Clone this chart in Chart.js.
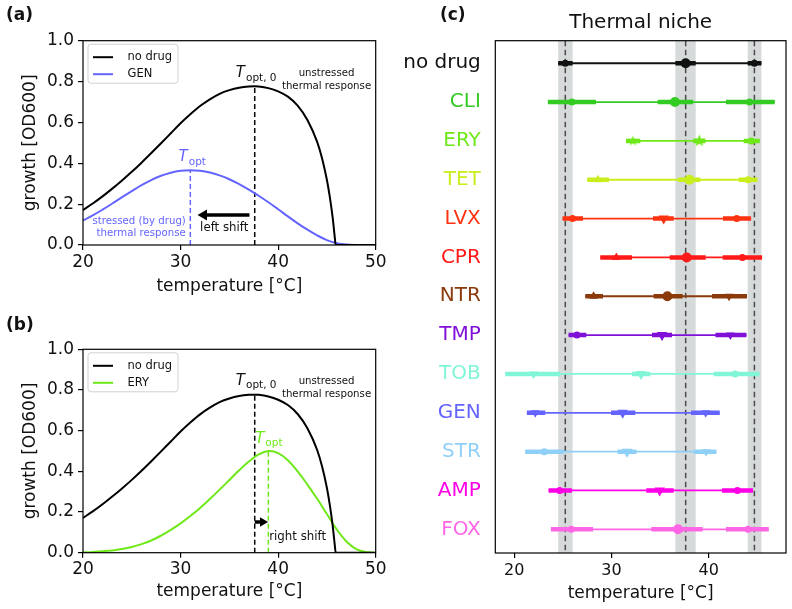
<!DOCTYPE html>
<html>
<head>
<meta charset="utf-8">
<script src="https://cdn.jsdelivr.net/npm/chart.js@4.4.1/dist/chart.umd.min.js"></script>
<style>
  body { margin: 0; background: #fff; width: 792px; height: 609px; position: relative; overflow: hidden; }
  canvas { position: absolute; }
  .panel { position: absolute; font: bold 17px "DejaVu Sans", sans-serif; color: #111; }
</style>
</head>
<body>
<canvas id="panelA" width="390" height="300" style="left:0;top:0"></canvas>
<canvas id="panelB" width="390" height="309" style="left:0;top:300px"></canvas>
<canvas id="panelC" width="402" height="609" style="left:390px;top:0"></canvas>
<div class="panel" style="left:6px;top:4px">(a)</div>
<div class="panel" style="left:6px;top:314px">(b)</div>
<div class="panel" style="left:440px;top:4px">(c)</div>
<script>
// growth curves (a) and (b)
const noDrugT = [20, 21, 22, 23, 24, 25, 26, 27, 28, 29, 30, 31, 32, 33, 34, 35, 36, 37, 37.6, 38, 39, 40, 41, 42, 43, 44, 44.5, 45, 45.3, 45.6, 45.8, 45.9, 47, 50];
const noDrugGrowth = [0.171, 0.203, 0.238, 0.276, 0.316, 0.358, 0.403, 0.45, 0.498, 0.547, 0.596, 0.64, 0.68, 0.713, 0.74, 0.758, 0.77, 0.776, 0.777, 0.776, 0.768, 0.752, 0.726, 0.682, 0.612, 0.505, 0.425, 0.318, 0.234, 0.13, 0.04, 0, 0, 0];
const drugT = [20, 21, 22, 23, 24, 25, 26, 27, 28, 29, 30, 31, 32, 33, 34, 35, 36, 37, 38, 39, 40, 41, 42, 43, 44, 45, 46, 47, 48, 49, 50];
const genGrowth = [0.12, 0.145, 0.173, 0.203, 0.234, 0.264, 0.293, 0.318, 0.339, 0.354, 0.363, 0.366, 0.363, 0.355, 0.341, 0.322, 0.298, 0.271, 0.241, 0.209, 0.175, 0.14, 0.106, 0.075, 0.047, 0.024, 0.009, 0.002, 0, 0, 0];
const eryGrowth = [0.002, 0.004, 0.007, 0.011, 0.018, 0.028, 0.042, 0.06, 0.084, 0.112, 0.144, 0.18, 0.22, 0.264, 0.31, 0.357, 0.405, 0.448, 0.483, 0.50, 0.49, 0.455, 0.40, 0.335, 0.265, 0.19, 0.115, 0.055, 0.018, 0.003, 0];

// shift arrows: [tail, head tip, growth level]
const leftShift = [37.06, 31.74, 0.147];
const rightShift = [37.6, 38.97, 0.151];

// thermal niche, panel (c)
const drugs = ['no drug', 'CLI', 'ERY', 'TET', 'LVX', 'CPR', 'NTR', 'TMP', 'TOB', 'GEN', 'STR', 'AMP', 'FOX'];
const drugColors = ['#111111', '#33cc22', '#6fe81a', '#c8ee1e', '#ff3311', '#ff1a1a', '#8b3a0c', '#8010d8', '#80f5d8', '#6464ff', '#8fd0f8', '#ff00e6', '#ff66e6'];
const tMin   = [25.25, 25.93, 32.21, 28.61, 26.00, 30.50, 28.16, 26.45, 21.99, 22.16, 23.09, 24.67, 25.87];
const tMinLo = [24.52, 23.46, 31.49, 27.51, 24.97, 28.85, 27.31, 25.59, 19.07, 21.30, 21.13, 23.53, 23.77];
const tMinHi = [26.00, 28.40, 32.97, 29.74, 27.07, 32.11, 29.13, 27.41, 24.73, 23.19, 25.08, 25.93, 28.10];
const tOpt   = [37.63, 36.53, 39.04, 38.01, 35.37, 37.74, 35.75, 35.20, 33.04, 31.15, 31.60, 34.96, 36.84];
const tOptLo = [36.57, 34.75, 38.39, 36.84, 34.27, 35.99, 34.34, 34.17, 32.11, 29.95, 30.63, 33.58, 34.10];
const tOptHi = [38.66, 38.39, 39.66, 39.14, 36.40, 39.69, 37.32, 36.23, 34.00, 32.45, 32.56, 36.40, 39.38];
const tMax   = [44.70, 44.19, 44.39, 44.05, 42.88, 43.46, 42.09, 42.23, 42.71, 39.69, 39.73, 42.95, 44.05];
const tMaxLo = [44.01, 41.78, 43.60, 43.09, 41.47, 41.44, 40.34, 40.69, 40.51, 38.18, 38.46, 41.37, 41.78];
const tMaxHi = [45.42, 46.79, 45.25, 45.01, 44.36, 45.49, 43.94, 43.88, 45.21, 41.13, 40.79, 44.56, 46.17];
const minMarker = ['o', 'o', '*', '^', 'o', '^', '^', 'o', 'v', 'v', 'o', 'o', 'o'];
const optMarker = ['o', 'o', '*', 'o', 'v', 'o', 'o', 'v', 'v', 'v', 'v', 'v', 'o'];
const maxMarker = ['o', 'o', 'o', 'o', 'o', 'o', 'v', 'v', 'o', 'v', 'v', 'o', 'o'];

const FONT = '"DejaVu Sans", sans-serif';
const INK = '#111';
Chart.defaults.font.family = FONT;
Chart.defaults.color = INK;

const points = (xs, ys) => xs.map((x, i) => ({ x, y: ys[i] }));
const peakOf = (xs, ys) => {
  const i = ys.indexOf(Math.max(...ys));
  return { x: xs[i], y: ys[i] };
};

// box around the plot area, optional shaded bands
const frame = {
  id: 'frame',
  beforeDatasetsDraw(chart, args, opts) {
    const { ctx, chartArea: a, scales: { x } } = chart;
    (opts.bands || []).forEach(([lo, hi]) => {
      const x0 = x.getPixelForValue(lo);
      const x1 = x.getPixelForValue(hi);
      ctx.save();
      ctx.fillStyle = '#d6dada';
      ctx.fillRect(x0, a.top, x1 - x0, a.bottom - a.top);
      ctx.restore();
    });
  },
  afterDraw(chart) {
    const { ctx, chartArea: a } = chart;
    ctx.save();
    ctx.strokeStyle = '#000';
    ctx.lineWidth = 1.2;
    ctx.strokeRect(a.left, a.top, a.right - a.left, a.bottom - a.top);
    ctx.restore();
  },
};

// text notes placed in data units
const notes = {
  id: 'notes',
  afterDatasetsDraw(chart, args, opts) {
    const { ctx, chartArea: a, scales: { x, y } } = chart;
    ctx.save();
    if (opts.title) {
      ctx.font = `20px ${FONT}`;
      ctx.fillStyle = INK;
      ctx.textAlign = 'center';
      ctx.textBaseline = 'middle';
      ctx.fillText(opts.title, (a.left + a.right) / 2, 23);
    }
    (opts.items || []).forEach((n) => {
      const px = x.getPixelForValue(n.x);
      const py = y.getPixelForValue(n.y);
      ctx.fillStyle = n.color || INK;
      if (n.sub) {
        const big = `italic ${n.size}px ${FONT}`;
        const small = `${n.subSize}px ${FONT}`;
        ctx.font = big;
        const w1 = ctx.measureText(n.text).width;
        ctx.font = small;
        const w2 = ctx.measureText(n.sub).width;
        const x0 = px - (w1 + w2) / 2;
        ctx.textAlign = 'left';
        ctx.textBaseline = 'alphabetic';
        ctx.font = big;
        ctx.fillText(n.text, x0, py);
        ctx.font = small;
        ctx.fillText(n.sub, x0 + w1 + 1, py + n.size * 0.22);
      } else {
        ctx.font = `${n.size}px ${FONT}`;
        ctx.textAlign = n.align || 'center';
        ctx.textBaseline = 'middle';
        n.text.split('\n').forEach((line, k) => ctx.fillText(line, px, py + k * n.size * 1.25));
      }
    });
    ctx.restore();
  },
};

// legend box in the upper left corner
const boxLegend = {
  id: 'boxLegend',
  afterDraw(chart, args, opts) {
    if (!opts.show) return;
    const { ctx, chartArea: a } = chart;
    const items = chart.data.datasets.filter((d) => d.label);
    ctx.save();
    ctx.beginPath();
    ctx.roundRect(a.left + 5, a.top + 3.5, 90, 39, 3);
    ctx.fillStyle = 'rgba(255,255,255,0.85)';
    ctx.fill();
    ctx.strokeStyle = '#d0d0d0';
    ctx.lineWidth = 1;
    ctx.stroke();
    items.forEach((d, k) => {
      const ly = a.top + 16.5 + k * 17;
      ctx.strokeStyle = d.borderColor;
      ctx.lineWidth = 2;
      ctx.beginPath();
      ctx.moveTo(a.left + 10, ly);
      ctx.lineTo(a.left + 30, ly);
      ctx.stroke();
      ctx.fillStyle = INK;
      ctx.font = `11.5px ${FONT}`;
      ctx.textBaseline = 'middle';
      ctx.fillText(d.label, a.left + 44.5, ly);
    });
    ctx.restore();
  },
};

const tickGrid = { display: true, drawOnChartArea: false, drawTicks: true, tickLength: 5, color: '#000', lineWidth: 1.2 };

function curvePanel(canvasId, padTop, axisH, titlePad, stressLabel, stressGrowth, stressColor, arrow, textItems) {
  const p0 = peakOf(noDrugT, noDrugGrowth);
  const p1 = peakOf(drugT, stressGrowth);
  const [tail, tip, level] = arrow;
  const dir = tip < tail ? -1 : 1;
  const headR = dir < 0 ? 6.3 : 5.4;
  const headLen = headR / 9.77;
  return new Chart(document.getElementById(canvasId), {
    type: 'scatter',
    data: {
      datasets: [
        { label: 'no drug', data: points(noDrugT, noDrugGrowth), showLine: true, borderColor: '#000', borderWidth: 2, pointRadius: 0, cubicInterpolationMode: 'monotone' },
        { label: stressLabel, data: points(drugT, stressGrowth), showLine: true, borderColor: stressColor, borderWidth: 2, pointRadius: 0, tension: 0.4 },
        { data: [{ x: p0.x, y: 0 }, { x: p0.x, y: p0.y }], showLine: true, borderColor: '#000', borderWidth: 1.5, borderDash: [5, 3], pointRadius: 0 },
        { data: [{ x: p1.x, y: 0 }, { x: p1.x, y: p1.y }], showLine: true, borderColor: stressColor, borderWidth: 1.5, borderDash: [5, 3], pointRadius: 0 },
        { data: [{ x: tail, y: level }, { x: tip - dir * headLen * 1.2, y: level }], showLine: true, borderColor: '#000', borderWidth: 3.5, pointRadius: 0 },
        { data: [{ x: tip - dir * headLen, y: level }], pointStyle: 'triangle', rotation: dir < 0 ? -90 : 90, pointRadius: headR, backgroundColor: '#000', borderWidth: 0 },
      ],
    },
    options: {
      responsive: false,
      animation: false,
      events: [],
      layout: { padding: { top: padTop, right: 14.3, left: 0, bottom: 0 } },
      plugins: {
        legend: { display: false },
        tooltip: { enabled: false },
        boxLegend: { show: true },
        notes: { items: textItems(p0, p1) },
      },
      scales: {
        x: {
          type: 'linear', min: 20, max: 50,
          afterFit: (s) => { s.height = axisH; },
          afterBuildTicks: (s) => { s.ticks = [20, 30, 40, 50].map((v) => ({ value: v })); },
          grid: tickGrid, border: { display: false },
          ticks: { font: { size: 17 }, color: INK, padding: 2, maxRotation: 0 },
          title: { display: true, text: 'temperature [°C]', font: { size: 17 }, color: INK, padding: { top: 0, bottom: titlePad } },
        },
        y: {
          min: 0, max: 1,
          afterFit: (s) => { s.width = 83; },
          grid: tickGrid, border: { display: false },
          ticks: { stepSize: 0.2, font: { size: 17 }, color: INK, padding: 4, callback: (v) => v.toFixed(1) },
          title: { display: true, text: 'growth [OD600]', font: { size: 17 }, color: INK, padding: { top: 20.8, bottom: 0 } },
        },
      },
    },
    plugins: [frame, notes, boxLegend],
  });
}

curvePanel('panelA', 40.7, 55, 3.4, 'GEN', genGrowth, '#6464ff', leftShift, (p0, p1) => [
  { x: p0.x + 0.1, y: 0.821, text: 'T', sub: 'opt, 0', size: 15, subSize: 10.5 },
  { x: 44.96, y: 0.84, text: 'unstressed\nthermal response', size: 10.2 },
  { x: p1.x + 0.15, y: 0.41, text: 'T', sub: 'opt', size: 15, subSize: 10.5, color: '#6464ff' },
  { x: 30.54, y: 0.1175, text: 'stressed (by drug)\nthermal response', size: 10.2, align: 'right', color: '#6464ff' },
  { x: 34.48, y: 0.082, text: 'left shift', size: 11.8 },
]);

curvePanel('panelB', 49.3, 56.3, 7.4, 'ERY', eryGrowth, '#6fe81a', rightShift, (p0, p1) => [
  { x: p0.x + 0.1, y: 0.824, text: 'T', sub: 'opt, 0', size: 15, subSize: 10.5 },
  { x: 44.96, y: 0.841, text: 'unstressed\nthermal response', size: 10.2 },
  { x: p1.x, y: 0.541, text: 'T', sub: 'opt', size: 15, subSize: 10.5, color: '#6fe81a' },
  { x: 42.0, y: 0.076, text: 'right shift', size: 11.8 },
]);

// panel (c)
function starImage(color, r) {
  const c = document.createElement('canvas');
  const s = Math.ceil(r * 2 + 2);
  c.width = s; c.height = s;
  const g = c.getContext('2d');
  g.translate(s / 2, s / 2);
  g.beginPath();
  for (let k = 0; k < 10; k++) {
    const rad = k % 2 === 0 ? r : r * 0.42;
    const ang = -Math.PI / 2 + (k * Math.PI) / 5;
    g.lineTo(rad * Math.cos(ang), rad * Math.sin(ang));
  }
  g.closePath();
  g.fillStyle = color;
  g.fill();
  return c;
}

const yTop = -0.58;
const yBottom = 12.61;
const cDatasets = [];
drugs.forEach((name, i) => {
  const color = drugColors[i];
  const marks = [minMarker[i], optMarker[i], maxMarker[i]];
  const big = [false, true, false];
  cDatasets.push({
    data: [{ x: tMin[i], y: i }, { x: tOpt[i], y: i }, { x: tMax[i], y: i }],
    showLine: false,
    order: 0,
    backgroundColor: color,
    borderWidth: 0,
    pointStyle: marks.map((m, k) => (m === '*' ? starImage(color, big[k] ? 6.5 : 5.5) : m === 'o' ? 'circle' : 'triangle')),
    pointRotation: marks.map((m) => (m === 'v' ? 180 : 0)),
    pointRadius: marks.map((m, k) => (m === 'o' ? (big[k] ? 5 : 3.5) : big[k] ? 6 : 5)),
  });
  cDatasets.push({
    data: [
      { x: tMinLo[i], y: i }, { x: tMinHi[i], y: i }, { x: tMinHi[i], y: null },
      { x: tOptLo[i], y: i }, { x: tOptHi[i], y: i }, { x: tOptHi[i], y: null },
      { x: tMaxLo[i], y: i }, { x: tMaxHi[i], y: i },
    ],
    showLine: true, spanGaps: false, order: 1,
    borderColor: color, borderWidth: 4.5, borderCapStyle: 'butt', pointRadius: 0,
  });
  cDatasets.push({
    data: [{ x: tMinLo[i], y: i }, { x: tMaxHi[i], y: i }],
    showLine: true, order: 2, borderColor: color, borderWidth: 1.8, pointRadius: 0,
  });
});
[tMin[0], tOpt[0], tMax[0]].forEach((t) => {
  cDatasets.push({
    data: [{ x: t, y: yTop }, { x: t, y: yBottom }],
    showLine: true, order: 3, borderColor: '#4a4a4a', borderWidth: 1.5, borderDash: [5.5, 3.5], pointRadius: 0,
  });
});

new Chart(document.getElementById('panelC'), {
  type: 'scatter',
  data: { datasets: cDatasets },
  options: {
    responsive: false,
    animation: false,
    events: [],
    layout: { padding: { top: 40.7, right: 4.3, left: 0, bottom: 0 } },
    plugins: {
      legend: { display: false },
      tooltip: { enabled: false },
      frame: { bands: [[tMinLo[0], tMinHi[0]], [tOptLo[0], tOptHi[0]], [tMaxLo[0], tMaxHi[0]]] },
      notes: { title: 'Thermal niche' },
    },
    scales: {
      x: {
        type: 'linear', min: 18.05, max: 47.95,
        afterFit: (s) => { s.height = 56; },
        afterBuildTicks: (s) => { s.ticks = [20, 30, 40].map((v) => ({ value: v })); },
        grid: tickGrid, border: { display: false },
        ticks: { font: { size: 16 }, color: INK, padding: 3, maxRotation: 0 },
        title: { display: true, text: 'temperature [°C]', font: { size: 17 }, color: INK, padding: { top: 0, bottom: 4.8 } },
      },
      y: {
        type: 'linear', min: yTop, max: yBottom, reverse: true,
        afterFit: (s) => { s.width = 105.3; },
        afterBuildTicks: (s) => { s.ticks = drugs.map((d, i) => ({ value: i })); },
        grid: { display: false }, border: { display: false },
        ticks: {
          font: { size: 20 }, padding: 6.5,
          color: (ctx) => drugColors[ctx.tick.value],
          callback: (v) => drugs[v],
        },
      },
    },
  },
  plugins: [frame, notes],
});
</script>
</body>
</html>
